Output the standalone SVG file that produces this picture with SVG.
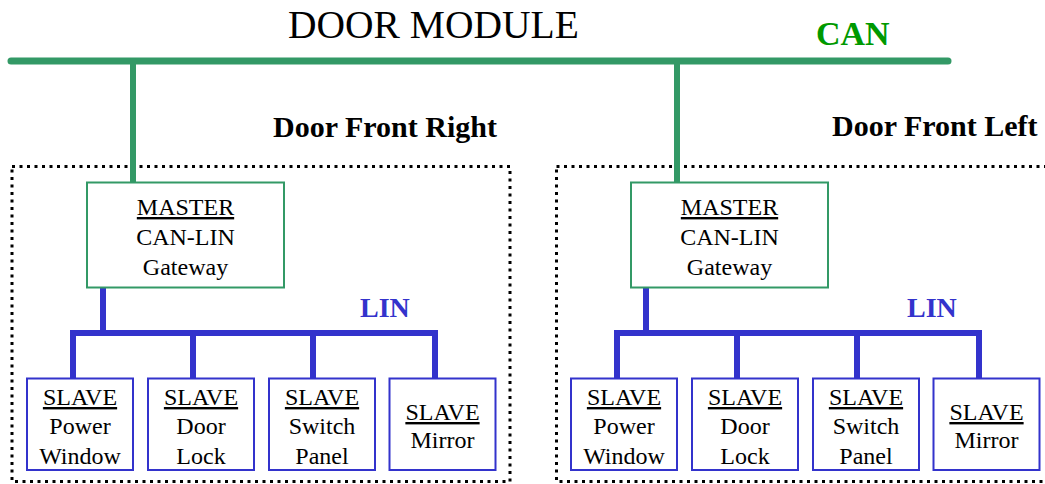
<svg xmlns="http://www.w3.org/2000/svg" width="1045" height="484" viewBox="0 0 1045 484">
<style>
  .t { font-family: "Liberation Serif", "Times New Roman", serif; fill: #000; text-anchor: middle; }
  .n { font-size: 24px; }
  .u { text-decoration: underline; }
  .title { font-size: 39.5px; text-anchor: start; }
  .hdr { font-size: 30px; font-weight: bold; text-anchor: start; }
  .can { font-family: "Liberation Serif", serif; font-size: 34px; font-weight: bold; fill: #009900; }
  .lin { font-family: "Liberation Serif", serif; font-size: 28px; font-weight: bold; fill: #3333CC; }
  .zone { fill: none; stroke: #000; stroke-width: 3; stroke-dasharray: 3 4.5; }
  .master { fill: #fff; stroke: #339966; stroke-width: 2; }
  .slave { fill: #fff; stroke: #3333CC; stroke-width: 2; }
  .canbus { fill: none; stroke: #339966; stroke-width: 7; stroke-linecap: round; }
  .candrop { fill: none; stroke: #339966; stroke-width: 6; stroke-linecap: round; }
  .linbus { fill: none; stroke: #3333CC; stroke-width: 6; stroke-linejoin: miter; }
</style>

<text class="t title" x="288" y="37.5">DOOR MODULE</text>
<text class="can" x="816" y="45">CAN</text>
<text class="t hdr" x="273" y="137">Door Front Right</text>
<text class="t hdr" x="832" y="136">Door Front Left</text>
<text class="lin" x="360" y="317">LIN</text>
<text class="lin" x="907" y="317">LIN</text>

<g id="zone-right">
  <rect class="zone" x="12" y="166.5" width="498" height="315"/>
</g>
<g id="zone-left">
  <rect class="zone" x="556.5" y="166.5" width="498" height="315"/>
</g>

<g id="connectors">
  <line class="canbus" x1="11" y1="61" x2="948" y2="61"/>
  <line class="candrop" x1="133" y1="61" x2="133" y2="184"/>
  <line class="candrop" x1="677" y1="61" x2="677" y2="184"/>
  <path class="linbus" d="M73,380 V333 H435 V380"/>
  <line class="linbus" x1="103" y1="287" x2="103" y2="333"/>
  <line class="linbus" x1="193" y1="333" x2="193" y2="380"/>
  <line class="linbus" x1="313" y1="333" x2="313" y2="380"/>
  <path class="linbus" d="M617,380 V333 H979 V380"/>
  <line class="linbus" x1="646" y1="287" x2="646" y2="333"/>
  <line class="linbus" x1="737" y1="333" x2="737" y2="380"/>
  <line class="linbus" x1="857" y1="333" x2="857" y2="380"/>
</g>

<g id="master-right">
  <rect class="master" x="87" y="182.5" width="197" height="105"/>
  <text class="t n u" x="185.5" y="215">MASTER</text>
  <text class="t n" x="185.5" y="245">CAN-LIN</text>
  <text class="t n" x="185.5" y="275">Gateway</text>
</g>
<g id="master-left">
  <rect class="master" x="631" y="182.5" width="197" height="105"/>
  <text class="t n u" x="729.5" y="215">MASTER</text>
  <text class="t n" x="729.5" y="245">CAN-LIN</text>
  <text class="t n" x="729.5" y="275">Gateway</text>
</g>

<g id="slave-r-window">
  <rect class="slave" x="27" y="378.5" width="106" height="91.5"/>
  <text class="t n u" x="80" y="405">SLAVE</text>
  <text class="t n" x="80" y="434">Power</text>
  <text class="t n" x="80" y="464">Window</text>
</g>
<g id="slave-r-lock">
  <rect class="slave" x="148" y="378.5" width="106" height="91.5"/>
  <text class="t n u" x="201" y="405">SLAVE</text>
  <text class="t n" x="201" y="434">Door</text>
  <text class="t n" x="201" y="464">Lock</text>
</g>
<g id="slave-r-switch">
  <rect class="slave" x="269" y="378.5" width="106" height="91.5"/>
  <text class="t n u" x="322" y="405">SLAVE</text>
  <text class="t n" x="322" y="434">Switch</text>
  <text class="t n" x="322" y="464">Panel</text>
</g>
<g id="slave-r-mirror">
  <rect class="slave" x="389.5" y="378.5" width="106" height="91.5"/>
  <text class="t n u" x="442.5" y="420">SLAVE</text>
  <text class="t n" x="442.5" y="448">Mirror</text>
</g>

<g id="slave-l-window">
  <rect class="slave" x="571" y="378.5" width="106" height="91.5"/>
  <text class="t n u" x="624" y="405">SLAVE</text>
  <text class="t n" x="624" y="434">Power</text>
  <text class="t n" x="624" y="464">Window</text>
</g>
<g id="slave-l-lock">
  <rect class="slave" x="692" y="378.5" width="106" height="91.5"/>
  <text class="t n u" x="745" y="405">SLAVE</text>
  <text class="t n" x="745" y="434">Door</text>
  <text class="t n" x="745" y="464">Lock</text>
</g>
<g id="slave-l-switch">
  <rect class="slave" x="813" y="378.5" width="106" height="91.5"/>
  <text class="t n u" x="866" y="405">SLAVE</text>
  <text class="t n" x="866" y="434">Switch</text>
  <text class="t n" x="866" y="464">Panel</text>
</g>
<g id="slave-l-mirror">
  <rect class="slave" x="933.5" y="378.5" width="106" height="91.5"/>
  <text class="t n u" x="986.5" y="420">SLAVE</text>
  <text class="t n" x="986.5" y="448">Mirror</text>
</g>
</svg>
